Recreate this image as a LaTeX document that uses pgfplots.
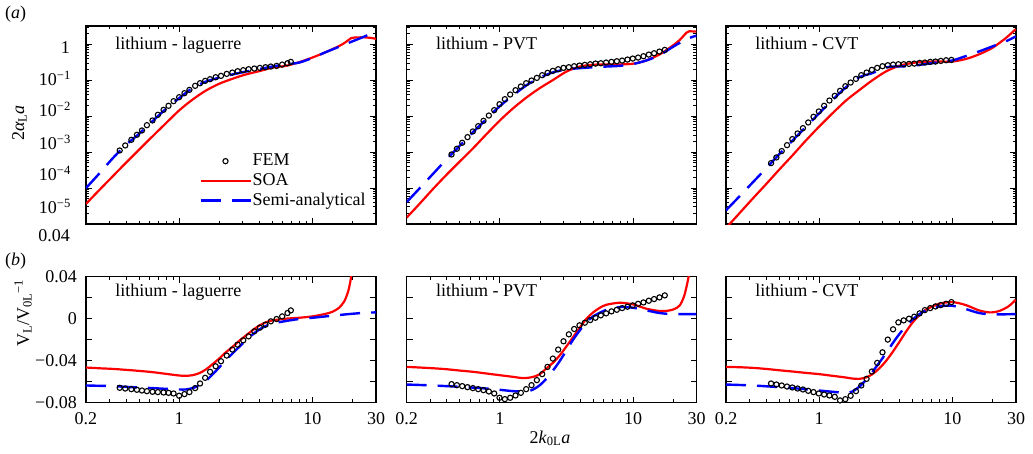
\documentclass[border=0pt]{standalone}
\usepackage{fontspec}
\setmainfont{Liberation Serif}
\usepackage{pgfplots}
\pgfplotsset{compat=1.18}

\pgfplotsset{
  every axis/.append style={anchor=south west, scale only axis, width=290pt,
    xmin=0.2, xmax=30, scaled y ticks=false,
    tick align=inside, major tick length=6pt, minor tick length=3.5pt,
    axis line style={line width=1.1pt}},
  every tick/.append style={black, line width=0.9pt},
  myfem/.style={black, only marks, mark=o, mark size=2.6pt, mark options={line width=1.1pt}},
  mysoa/.style={red, line width=2.2pt, smooth},
  mysemi/.style={blue, line width=2.4pt, dash pattern=on 20pt off 11pt, smooth},
  lineleg/.style={legend image code/.code={\draw[##1] (0pt,0pt) -- (50pt,0pt);}},
  markleg/.style={legend image code/.code={\draw[mark repeat=2,mark phase=2,##1] plot coordinates {(0pt,0pt)(25pt,0pt)(50pt,0pt)};}},
}

\begin{document}
\fontsize{18}{21.6}\selectfont
\begin{tikzpicture}
\path[use as bounding box] (0,0) rectangle (1033pt,453pt);

% ---------- (a) top row ----------
\begin{axis}[xmode=log, ymode=log, at={(86pt,229pt)}, height=198pt, ymin=1e-5, ymax=3.22,
  xtick={0.2,1,10,30}, minor xtick={0.3,0.4,0.5,0.6,0.7,0.8,0.9,2,3,4,5,6,7,8,9,20},
  ytick={1e-5,1e-4,1e-3,1e-2,1e-1,1},
  minor ytick={2e-5,3e-5,4e-5,5e-5,6e-5,7e-5,8e-5,9e-5,2e-4,3e-4,4e-4,5e-4,6e-4,7e-4,8e-4,9e-4,2e-3,3e-3,4e-3,5e-3,6e-3,7e-3,8e-3,9e-3,0.02,0.03,0.04,0.05,0.06,0.07,0.08,0.09,0.2,0.3,0.4,0.5,0.6,0.7,0.8,0.9,2,3},
  xticklabels={}, yticklabels={},
  legend style={draw=none, fill=none, at={(rel axis cs:0.39,0.36)}, anchor=north west,
    legend cell align=left, row sep=3pt, inner sep=0pt, nodes={inner sep=1pt}}]
  \addlegendimage{black, only marks, mark=o, mark size=2.6pt, mark options={line width=1.1pt}, markleg}
  \addlegendentry{FEM}
  \addlegendimage{red, line width=2.2pt, lineleg}
  \addlegendentry{SOA}
  \addlegendimage{blue, line width=2.4pt, dash pattern=on 20pt off 11pt, lineleg}
  \addlegendentry{Semi-analytical}
  \addplot[myfem, forget plot] coordinates {(0.358,1.11e-3)(0.394,1.53e-3)(0.438,2.20e-3)(0.482,3.03e-3)(0.526,4.0e-3)(0.573,5.62e-3)(0.631,7.59e-3)(0.692,1.09e-2)(0.764,1.50e-2)(0.832,1.94e-2)(0.908,2.61e-2)(1.0,3.37e-2)(1.096,4.36e-2)(1.194,5.38e-2)(1.318,6.97e-2)(1.435,8.26e-2)(1.567,9.57e-2)(1.706,0.1067)(1.879,0.121)(2.061,0.132)(2.275,0.150)(2.506,0.163)(2.748,0.178)(3.027,0.190)(3.319,0.202)(3.664,0.211)(4.036,0.220)(4.446,0.230)(4.875,0.240)(5.383,0.250)(5.929,0.272)(6.501,0.296)(6.887,0.323)};
  \addplot[mysoa, forget plot] coordinates {(0.2,3.63e-5)(0.251,8.71e-5)(0.316,2.09e-4)(0.398,5.01e-4)(0.501,1.175e-3)(0.631,2.75e-3)(0.794,6.31e-3)(1,1.445e-2)(1.259,2.88e-2)(1.585,5.13e-2)(1.995,7.94e-2)(2.512,0.1096)(3.162,0.1445)(3.981,0.178)(5.012,0.224)(6.31,0.251)(7.943,0.316)(10,0.427)(12.59,0.603)(15.85,0.891)(17.78,1.148)(19.5,1.479)(20.89,1.549)(25.12,1.549)(28.18,1.479)(30,1.413)};
  \addplot[mysemi, forget plot] coordinates {(0.2,1.0e-4)(0.251,2.51e-4)(0.316,6.61e-4)(0.398,1.58e-3)(0.501,3.24e-3)(0.631,7.24e-3)(0.794,1.58e-2)(1,3.16e-2)(1.259,6.03e-2)(1.585,9.12e-2)(1.995,0.1175)(2.512,0.1445)(3.162,0.1738)(3.981,0.204)(5.012,0.240)(6.31,0.275)(7.943,0.309)(10,0.417)(12.59,0.603)(15.85,0.851)(19.95,1.202)(25.12,1.698)(30,2.344)};
  \node[anchor=base west] at (rel axis cs:0.08,0.882) {lithium - laguerre};
\end{axis}

\begin{axis}[xmode=log, ymode=log, at={(406.7pt,229pt)}, height=198pt, ymin=1e-5, ymax=3.22,
  xtick={0.2,1,10,30}, minor xtick={0.3,0.4,0.5,0.6,0.7,0.8,0.9,2,3,4,5,6,7,8,9,20},
  ytick={1e-5,1e-4,1e-3,1e-2,1e-1,1},
  minor ytick={2e-5,3e-5,4e-5,5e-5,6e-5,7e-5,8e-5,9e-5,2e-4,3e-4,4e-4,5e-4,6e-4,7e-4,8e-4,9e-4,2e-3,3e-3,4e-3,5e-3,6e-3,7e-3,8e-3,9e-3,0.02,0.03,0.04,0.05,0.06,0.07,0.08,0.09,0.2,0.3,0.4,0.5,0.6,0.7,0.8,0.9,2,3},
  xticklabels={}, yticklabels={}]
  \addplot[myfem] coordinates {(0.434,8.6e-4)(0.476,1.24e-3)(0.522,1.82e-3)(0.572,2.61e-3)(0.627,3.75e-3)(0.688,5.27e-3)(0.754,7.41e-3)(0.827,1.04e-2)(0.907,1.47e-2)(0.994,2.15e-2)(1.090,2.97e-2)(1.195,4.0e-2)(1.311,5.27e-2)(1.437,6.67e-2)(1.576,8.26e-2)(1.728,9.8e-2)(1.895,0.116)(2.078,0.138)(2.278,0.160)(2.498,0.182)(2.739,0.202)(3.003,0.220)(3.293,0.230)(3.611,0.245)(3.959,0.255)(4.341,0.267)(4.760,0.278)(5.219,0.290)(5.722,0.296)(6.274,0.310)(6.879,0.323)(7.543,0.337)(8.270,0.352)(9.068,0.375)(9.94,0.400)(10.90,0.426)(11.95,0.465)(13.11,0.516)(14.37,0.562)(15.76,0.625)(17.28,0.696)};
  \addplot[mysoa] coordinates {(0.2,1.51e-5)(0.251,3.72e-5)(0.316,9.55e-5)(0.398,2.34e-4)(0.501,5.5e-4)(0.631,1.29e-3)(0.794,3.16e-3)(1,7.59e-3)(1.259,1.66e-2)(1.585,3.31e-2)(1.995,6.03e-2)(2.512,0.102)(3.162,0.174)(3.981,0.240)(5.012,0.269)(6.31,0.275)(7.943,0.275)(10,0.288)(12.59,0.355)(15.85,0.525)(17.78,0.692)(19.95,0.933)(22.39,1.318)(25.12,2.09)(26.3,2.29)(29.85,2.24)};
  \addplot[mysemi] coordinates {(0.2,4.07e-5)(0.251,1.0e-4)(0.316,2.51e-4)(0.398,6.31e-4)(0.501,1.51e-3)(0.631,3.63e-3)(0.794,8.32e-3)(1,1.905e-2)(1.259,3.80e-2)(1.585,7.24e-2)(1.995,0.1175)(2.512,0.166)(3.162,0.1995)(3.981,0.216)(5.012,0.229)(6.31,0.240)(7.943,0.251)(10,0.282)(12.59,0.355)(15.85,0.501)(19.95,0.851)(25.12,1.38)(29.85,1.738)};
  \node[anchor=base west] at (rel axis cs:0.08,0.882) {lithium - PVT};
\end{axis}

\begin{axis}[xmode=log, ymode=log, at={(726pt,229pt)}, height=198pt, ymin=1e-5, ymax=3.22,
  xtick={0.2,1,10,30}, minor xtick={0.3,0.4,0.5,0.6,0.7,0.8,0.9,2,3,4,5,6,7,8,9,20},
  ytick={1e-5,1e-4,1e-3,1e-2,1e-1,1},
  minor ytick={2e-5,3e-5,4e-5,5e-5,6e-5,7e-5,8e-5,9e-5,2e-4,3e-4,4e-4,5e-4,6e-4,7e-4,8e-4,9e-4,2e-3,3e-3,4e-3,5e-3,6e-3,7e-3,8e-3,9e-3,0.02,0.03,0.04,0.05,0.06,0.07,0.08,0.09,0.2,0.3,0.4,0.5,0.6,0.7,0.8,0.9,2,3},
  xticklabels={}, yticklabels={}]
  \addplot[myfem] coordinates {(0.4357,4.94e-4)(0.4776,7.11e-4)(0.5236,1.07e-3)(0.5738,1.56e-3)(0.6289,2.30e-3)(0.6893,3.30e-3)(0.7556,4.64e-3)(0.8281,6.67e-3)(0.9073,9.58e-3)(0.9943,1.35e-2)(1.090,1.94e-2)(1.194,2.72e-2)(1.309,3.67e-2)(1.435,5.06e-2)(1.573,6.81e-2)(1.723,8.61e-2)(1.889,0.109)(2.070,0.138)(2.269,0.163)(2.486,0.194)(2.725,0.220)(2.987,0.245)(3.273,0.261)(3.587,0.272)(3.931,0.278)(4.308,0.278)(4.722,0.284)(5.175,0.290)(5.671,0.303)(6.215,0.310)(6.812,0.323)(7.466,0.330)(8.182,0.344)(8.968,0.359)(9.829,0.367)};
  \addplot[mysoa] coordinates {(0.2,7.76e-6)(0.251,1.95e-5)(0.316,5.01e-5)(0.398,1.26e-4)(0.501,3.24e-4)(0.631,8.13e-4)(0.794,2.09e-3)(1,5.13e-3)(1.259,1.20e-2)(1.585,2.69e-2)(1.995,5.25e-2)(2.512,0.1)(3.162,0.174)(3.981,0.251)(5.012,0.302)(6.31,0.324)(7.943,0.331)(10,0.331)(12.59,0.389)(15.85,0.525)(19.95,0.794)(25.12,1.479)(29.85,2.63)};
  \addplot[mysemi] coordinates {(0.2,2.4e-5)(0.251,5.75e-5)(0.316,1.41e-4)(0.398,3.47e-4)(0.501,8.71e-4)(0.631,2.09e-3)(0.794,5.01e-3)(1,1.20e-2)(1.259,2.82e-2)(1.585,6.31e-2)(1.995,0.120)(2.512,0.158)(3.162,0.224)(3.548,0.240)(3.981,0.240)(5.012,0.251)(6.31,0.282)(7.943,0.316)(10,0.355)(12.59,0.468)(15.85,0.631)(19.95,0.871)(25.12,1.202)(30,1.66)};
  \node[anchor=base west] at (rel axis cs:0.08,0.882) {lithium - CVT};
\end{axis}

% ---------- (b) bottom row ----------
\begin{axis}[xmode=log, at={(86pt,50.3pt)}, height=126pt, ymin=-0.08, ymax=0.04,
  xtick={0.2,1,10,30}, minor xtick={0.3,0.4,0.5,0.6,0.7,0.8,0.9,2,3,4,5,6,7,8,9,20},
  ytick={-0.08,-0.06,-0.04,-0.02,0,0.02,0.04},
  xticklabels={0.2,1,10,30}, yticklabels={{−0.08},{},{−0.04},{},{0},{},{0.04}},
  xticklabel style={yshift=-4pt}, yticklabel style={xshift=-3pt}]
  \addplot[myfem] coordinates {(0.358,-0.0658)(0.394,-0.0665)(0.438,-0.0671)(0.482,-0.0677)(0.526,-0.0684)(0.573,-0.0690)(0.631,-0.0696)(0.692,-0.0699)(0.764,-0.0703)(0.832,-0.0706)(0.908,-0.0712)(1.0,-0.0734)(1.096,-0.0718)(1.194,-0.0699)(1.318,-0.0661)(1.435,-0.0617)(1.567,-0.0563)(1.706,-0.0506)(1.879,-0.0453)(2.061,-0.0405)(2.275,-0.0351)(2.506,-0.0294)(2.748,-0.0247)(3.027,-0.0206)(3.319,-0.0168)(3.664,-0.0120)(4.036,-0.0085)(4.446,-0.0057)(4.875,-0.0025)(5.383,-0.0003)(5.929,0.0022)(6.501,0.0054)(6.887,0.0079)};
  \addplot[mysoa] coordinates {(0.2,-0.0465)(0.251,-0.0472)(0.316,-0.0478)(0.398,-0.0487)(0.501,-0.0497)(0.631,-0.0509)(0.794,-0.0525)(1,-0.0541)(1.122,-0.0544)(1.259,-0.0538)(1.413,-0.0519)(1.585,-0.0484)(1.778,-0.0434)(1.995,-0.0380)(2.239,-0.0320)(2.512,-0.0269)(2.818,-0.0212)(3.162,-0.0161)(3.548,-0.0111)(3.981,-0.0066)(4.467,-0.0035)(5.012,-0.0016)(6.31,0.0)(7.943,0.0009)(10,0.0022)(12.59,0.0047)(14.13,0.0066)(15.85,0.0104)(17.38,0.0168)(18.62,0.0269)(19.5,0.0396)(20.42,0.06)};
  \addplot[mysemi] coordinates {(0.2,-0.0636)(0.251,-0.0639)(0.316,-0.0642)(0.398,-0.0649)(0.501,-0.0655)(0.631,-0.0661)(0.794,-0.0668)(1,-0.0674)(1.122,-0.0674)(1.259,-0.0661)(1.413,-0.0636)(1.585,-0.0592)(1.778,-0.0532)(1.995,-0.0465)(2.239,-0.0396)(2.512,-0.0332)(2.818,-0.0269)(3.162,-0.0209)(3.548,-0.0152)(3.981,-0.0104)(4.467,-0.0070)(5.012,-0.0047)(6.31,-0.0022)(7.943,-0.0003)(10,0.0009)(12.59,0.0022)(15.85,0.0035)(19.95,0.0047)(25.12,0.0057)(30,0.0060)};
  \node[anchor=base west] at (rel axis cs:0.08,0.841) {lithium - laguerre};
\end{axis}

\begin{axis}[xmode=log, at={(406.7pt,50.3pt)}, height=126pt, ymin=-0.08, ymax=0.04,
  xtick={0.2,1,10,30}, minor xtick={0.3,0.4,0.5,0.6,0.7,0.8,0.9,2,3,4,5,6,7,8,9,20},
  ytick={-0.08,-0.06,-0.04,-0.02,0,0.02,0.04},
  xticklabels={0.2,1,10,30}, yticklabels={}, xticklabel style={yshift=-4pt}]
  \addplot[myfem] coordinates {(0.434,-0.0623)(0.476,-0.0633)(0.522,-0.0642)(0.572,-0.0652)(0.627,-0.0661)(0.688,-0.0671)(0.754,-0.0680)(0.827,-0.0693)(0.907,-0.0712)(0.994,-0.0753)(1.090,-0.0766)(1.195,-0.0753)(1.311,-0.0731)(1.437,-0.0706)(1.576,-0.0671)(1.728,-0.0633)(1.895,-0.0585)(2.078,-0.0528)(2.278,-0.0459)(2.498,-0.0380)(2.739,-0.0294)(3.003,-0.0215)(3.293,-0.0149)(3.611,-0.0098)(3.959,-0.0063)(4.341,-0.0038)(4.760,-0.0013)(5.219,0.0009)(5.722,0.0032)(6.274,0.0051)(6.879,0.0070)(7.543,0.0085)(8.270,0.0101)(9.068,0.0114)(9.94,0.0127)(10.90,0.0142)(11.95,0.0155)(13.11,0.0171)(14.37,0.0187)(15.76,0.0203)(17.28,0.0222)};
  \addplot[mysoa] coordinates {(0.2,-0.0459)(0.251,-0.0465)(0.316,-0.0472)(0.398,-0.0481)(0.501,-0.0494)(0.631,-0.0506)(0.794,-0.0522)(1,-0.0538)(1.259,-0.0554)(1.514,-0.0566)(1.778,-0.0554)(1.995,-0.0528)(2.239,-0.0472)(2.512,-0.0418)(2.818,-0.0348)(3.162,-0.0263)(3.548,-0.0174)(3.981,-0.0085)(4.467,0.0)(5.012,0.0060)(5.623,0.0104)(6.31,0.0133)(7.943,0.0152)(10,0.0136)(12.59,0.0095)(15.85,0.0073)(18.2,0.0076)(20.42,0.0092)(22.39,0.0127)(23.99,0.0206)(25.12,0.0301)(26.3,0.0427)(27.5,0.06)};
  \addplot[mysemi] coordinates {(0.2,-0.0627)(0.316,-0.0636)(0.501,-0.0649)(0.794,-0.0665)(1,-0.0677)(1.259,-0.0690)(1.585,-0.0693)(1.778,-0.0674)(1.995,-0.0633)(2.239,-0.0570)(2.512,-0.0491)(2.818,-0.0402)(3.162,-0.0301)(3.548,-0.0199)(3.981,-0.0111)(4.467,-0.0035)(5.012,0.0022)(6.31,0.0085)(7.943,0.0111)(10,0.0104)(12.59,0.0079)(15.85,0.0054)(19.95,0.0044)(29.85,0.0044)};
  \node[anchor=base west] at (rel axis cs:0.08,0.841) {lithium - PVT};
\end{axis}

\begin{axis}[xmode=log, at={(726pt,50.3pt)}, height=126pt, ymin=-0.08, ymax=0.04,
  xtick={0.2,1,10,30}, minor xtick={0.3,0.4,0.5,0.6,0.7,0.8,0.9,2,3,4,5,6,7,8,9,20},
  ytick={-0.08,-0.06,-0.04,-0.02,0,0.02,0.04},
  xticklabels={0.2,1,10,30}, yticklabels={}, xticklabel style={yshift=-4pt}]
  \addplot[myfem] coordinates {(0.4357,-0.0617)(0.4776,-0.0627)(0.5236,-0.0636)(0.5738,-0.0646)(0.6289,-0.0655)(0.6893,-0.0665)(0.7556,-0.0674)(0.8281,-0.0687)(0.9073,-0.0699)(0.9943,-0.0712)(1.090,-0.0722)(1.194,-0.0731)(1.309,-0.0744)(1.435,-0.0778)(1.573,-0.0766)(1.723,-0.0734)(1.889,-0.0690)(2.070,-0.0636)(2.269,-0.0573)(2.486,-0.0503)(2.725,-0.0421)(2.987,-0.0320)(3.273,-0.0199)(3.587,-0.0101)(3.931,-0.0035)(4.308,-0.0016)(4.722,0.0)(5.175,0.0019)(5.671,0.0051)(6.215,0.0082)(6.812,0.0101)(7.466,0.0117)(8.182,0.0130)(8.968,0.0142)(9.829,0.0158)};
  \addplot[mysoa] coordinates {(0.2,-0.0459)(0.251,-0.0462)(0.316,-0.0468)(0.398,-0.0478)(0.501,-0.0491)(0.631,-0.0503)(0.794,-0.0516)(1,-0.0528)(1.259,-0.0544)(1.585,-0.0560)(1.778,-0.0570)(1.995,-0.0573)(2.239,-0.0560)(2.512,-0.0528)(2.818,-0.0475)(3.162,-0.0405)(3.548,-0.0320)(3.981,-0.0225)(4.467,-0.0127)(5.012,-0.0038)(5.623,0.0032)(6.31,0.0085)(7.943,0.0142)(10,0.0158)(12.59,0.0130)(15.85,0.0079)(19.05,0.0060)(22.39,0.0073)(26.3,0.0117)(29.85,0.0180)};
  \addplot[mysemi] coordinates {(0.2,-0.0627)(0.316,-0.0636)(0.501,-0.0652)(0.794,-0.0671)(1,-0.0684)(1.259,-0.0696)(1.585,-0.0706)(1.778,-0.0693)(1.995,-0.0649)(2.239,-0.0585)(2.512,-0.0506)(2.818,-0.0421)(3.162,-0.0332)(3.548,-0.0237)(3.981,-0.0149)(4.467,-0.0073)(5.012,-0.0009)(5.623,0.0041)(6.31,0.0079)(7.943,0.0117)(10,0.0123)(12.59,0.0092)(15.85,0.0054)(19.95,0.0041)(29.85,0.0044)};
  \node[anchor=base west] at (rel axis cs:0.08,0.841) {lithium - CVT};
\end{axis}

% ---------- labels outside the axes ----------
\node[anchor=base east] at (76pt,399.7pt) {1};
\node[anchor=base east] at (77pt,367.3pt) {10\textsuperscript{−1}};
\node[anchor=base east] at (77pt,336.3pt) {10\textsuperscript{−2}};
\node[anchor=base east] at (77pt,303.7pt) {10\textsuperscript{−3}};
\node[anchor=base east] at (77pt,272pt) {10\textsuperscript{−4}};
\node[anchor=base east] at (77pt,239pt) {10\textsuperscript{−5}};
\node[anchor=base east] at (76pt,211.3pt) {0.04};
\node[anchor=base west, inner sep=0pt] at (5pt,434.3pt) {(\textit{a})};
\node[anchor=base west, inner sep=0pt] at (5pt,188pt) {(\textit{b})};
\node[rotate=90, anchor=base, inner sep=0pt] at (24pt,330pt) {2\textit{α}\textsubscript{L}\textit{a}};
\node[rotate=90, anchor=base, inner sep=0pt] at (29pt,140pt) {V\textsubscript{L}/V\textsubscript{0L}\textsuperscript{−1}};
\node[anchor=base, inner sep=0pt] at (550pt,10pt) {2\textit{k}\textsubscript{0L}\textit{a}};
\end{tikzpicture}
\end{document}
